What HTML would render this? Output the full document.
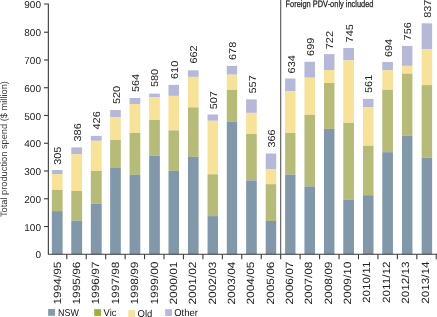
<!DOCTYPE html>
<html><head><meta charset="utf-8"><style>
html,body{margin:0;padding:0;background:#fff;}
body{width:437px;height:317px;overflow:hidden;font-family:"Liberation Sans",sans-serif;}
svg{display:block;will-change:transform;} text{text-rendering:geometricPrecision;}
</style></head><body>
<svg width="437" height="317" viewBox="0 0 437 317">
<rect x="51.83" y="170.0" width="10.774999999999999" height="4.10" fill="#b6b8da"/>
<rect x="51.83" y="174.1" width="10.774999999999999" height="15.80" fill="#f7e298"/>
<rect x="51.83" y="189.9" width="10.774999999999999" height="21.20" fill="#b6bc78"/>
<rect x="51.83" y="211.1" width="10.774999999999999" height="43.20" fill="#8098aa"/>
<rect x="71.27" y="147.4" width="10.849999999999994" height="6.60" fill="#b6b8da"/>
<rect x="71.27" y="154.0" width="10.849999999999994" height="37.00" fill="#f7e298"/>
<rect x="71.27" y="191.0" width="10.849999999999994" height="29.70" fill="#b6bc78"/>
<rect x="71.27" y="220.7" width="10.849999999999994" height="33.60" fill="#8098aa"/>
<rect x="90.84" y="135.9" width="10.849999999999994" height="4.90" fill="#b6b8da"/>
<rect x="90.84" y="140.8" width="10.849999999999994" height="30.20" fill="#f7e298"/>
<rect x="90.84" y="171.0" width="10.849999999999994" height="32.70" fill="#b6bc78"/>
<rect x="90.84" y="203.7" width="10.849999999999994" height="50.60" fill="#8098aa"/>
<rect x="110.12" y="110.0" width="10.700000000000003" height="7.20" fill="#b6b8da"/>
<rect x="110.12" y="117.2" width="10.700000000000003" height="22.80" fill="#f7e298"/>
<rect x="110.12" y="140.0" width="10.700000000000003" height="27.40" fill="#b6bc78"/>
<rect x="110.12" y="167.4" width="10.700000000000003" height="86.90" fill="#8098aa"/>
<rect x="129.59" y="98.0" width="10.700000000000017" height="6.00" fill="#b6b8da"/>
<rect x="129.59" y="104.0" width="10.700000000000017" height="28.90" fill="#f7e298"/>
<rect x="129.59" y="132.9" width="10.700000000000017" height="41.90" fill="#b6bc78"/>
<rect x="129.59" y="174.8" width="10.700000000000017" height="79.50" fill="#8098aa"/>
<rect x="149.16" y="93.6" width="10.699999999999989" height="3.60" fill="#b6b8da"/>
<rect x="149.16" y="97.2" width="10.699999999999989" height="22.80" fill="#f7e298"/>
<rect x="149.16" y="120.0" width="10.699999999999989" height="35.60" fill="#b6bc78"/>
<rect x="149.16" y="155.6" width="10.699999999999989" height="98.70" fill="#8098aa"/>
<rect x="168.49" y="84.9" width="10.5" height="11.00" fill="#b6b8da"/>
<rect x="168.49" y="95.9" width="10.5" height="34.50" fill="#f7e298"/>
<rect x="168.49" y="130.4" width="10.5" height="40.40" fill="#b6bc78"/>
<rect x="168.49" y="170.8" width="10.5" height="83.50" fill="#8098aa"/>
<rect x="187.96" y="70.3" width="10.650000000000006" height="6.60" fill="#b6b8da"/>
<rect x="187.96" y="76.9" width="10.650000000000006" height="30.50" fill="#f7e298"/>
<rect x="187.96" y="107.4" width="10.650000000000006" height="49.40" fill="#b6bc78"/>
<rect x="187.96" y="156.8" width="10.650000000000006" height="97.50" fill="#8098aa"/>
<rect x="207.53" y="114.5" width="10.5" height="6.30" fill="#b6b8da"/>
<rect x="207.53" y="120.8" width="10.5" height="53.50" fill="#f7e298"/>
<rect x="207.53" y="174.3" width="10.5" height="41.80" fill="#b6bc78"/>
<rect x="207.53" y="216.1" width="10.5" height="38.20" fill="#8098aa"/>
<rect x="226.80" y="65.9" width="10.349999999999994" height="8.80" fill="#b6b8da"/>
<rect x="226.80" y="74.7" width="10.349999999999994" height="15.10" fill="#f7e298"/>
<rect x="226.80" y="89.8" width="10.349999999999994" height="32.10" fill="#b6bc78"/>
<rect x="226.80" y="121.9" width="10.349999999999994" height="132.40" fill="#8098aa"/>
<rect x="246.12" y="99.4" width="10.649999999999977" height="13.50" fill="#b6b8da"/>
<rect x="246.12" y="112.9" width="10.649999999999977" height="21.10" fill="#f7e298"/>
<rect x="246.12" y="134.0" width="10.649999999999977" height="46.40" fill="#b6bc78"/>
<rect x="246.12" y="180.4" width="10.649999999999977" height="73.90" fill="#8098aa"/>
<rect x="265.70" y="153.5" width="10.5" height="15.60" fill="#b6b8da"/>
<rect x="265.70" y="169.1" width="10.5" height="15.10" fill="#f7e298"/>
<rect x="265.70" y="184.2" width="10.5" height="36.80" fill="#b6bc78"/>
<rect x="265.70" y="221.0" width="10.5" height="33.30" fill="#8098aa"/>
<rect x="285.12" y="78.5" width="10.350000000000023" height="12.70" fill="#b6b8da"/>
<rect x="285.12" y="91.2" width="10.350000000000023" height="41.70" fill="#f7e298"/>
<rect x="285.12" y="132.9" width="10.350000000000023" height="41.70" fill="#b6bc78"/>
<rect x="285.12" y="174.6" width="10.350000000000023" height="79.70" fill="#8098aa"/>
<rect x="304.44" y="61.8" width="10.549999999999955" height="15.90" fill="#b6b8da"/>
<rect x="304.44" y="77.7" width="10.549999999999955" height="37.10" fill="#f7e298"/>
<rect x="304.44" y="114.8" width="10.549999999999955" height="71.60" fill="#b6bc78"/>
<rect x="304.44" y="186.4" width="10.549999999999955" height="67.90" fill="#8098aa"/>
<rect x="323.97" y="54.1" width="10.5" height="15.90" fill="#b6b8da"/>
<rect x="323.97" y="70.0" width="10.5" height="13.00" fill="#f7e298"/>
<rect x="323.97" y="83.0" width="10.5" height="45.90" fill="#b6bc78"/>
<rect x="323.97" y="128.9" width="10.5" height="125.40" fill="#8098aa"/>
<rect x="343.29" y="48.0" width="10.699999999999989" height="12.30" fill="#b6b8da"/>
<rect x="343.29" y="60.3" width="10.699999999999989" height="62.60" fill="#f7e298"/>
<rect x="343.29" y="122.9" width="10.699999999999989" height="77.00" fill="#b6bc78"/>
<rect x="343.29" y="199.9" width="10.699999999999989" height="54.40" fill="#8098aa"/>
<rect x="362.96" y="98.9" width="10.549999999999955" height="8.20" fill="#b6b8da"/>
<rect x="362.96" y="107.1" width="10.549999999999955" height="38.70" fill="#f7e298"/>
<rect x="362.96" y="145.8" width="10.549999999999955" height="49.40" fill="#b6bc78"/>
<rect x="362.96" y="195.2" width="10.549999999999955" height="59.10" fill="#8098aa"/>
<rect x="382.28" y="62.0" width="10.649999999999977" height="8.30" fill="#b6b8da"/>
<rect x="382.28" y="70.3" width="10.649999999999977" height="19.50" fill="#f7e298"/>
<rect x="382.28" y="89.8" width="10.649999999999977" height="62.40" fill="#b6bc78"/>
<rect x="382.28" y="152.2" width="10.649999999999977" height="102.10" fill="#8098aa"/>
<rect x="401.96" y="45.9" width="10.449999999999932" height="20.00" fill="#b6b8da"/>
<rect x="401.96" y="65.9" width="10.449999999999932" height="7.70" fill="#f7e298"/>
<rect x="401.96" y="73.6" width="10.449999999999932" height="62.00" fill="#b6bc78"/>
<rect x="401.96" y="135.6" width="10.449999999999932" height="118.70" fill="#8098aa"/>
<rect x="421.68" y="23.3" width="10.449999999999989" height="26.10" fill="#b6b8da"/>
<rect x="421.68" y="49.4" width="10.449999999999989" height="35.70" fill="#f7e298"/>
<rect x="421.68" y="85.1" width="10.449999999999989" height="72.50" fill="#b6bc78"/>
<rect x="421.68" y="157.6" width="10.449999999999989" height="96.70" fill="#8098aa"/>
<path d="M44 4.0 H48.35 V254.3 H437" fill="none" stroke="#3a3a3a" stroke-width="1.1"/>
<path d="M44 226.54 H48.35" stroke="#3a3a3a" stroke-width="1.1"/>
<path d="M44 198.78 H48.35" stroke="#3a3a3a" stroke-width="1.1"/>
<path d="M44 171.02 H48.35" stroke="#3a3a3a" stroke-width="1.1"/>
<path d="M44 143.26 H48.35" stroke="#3a3a3a" stroke-width="1.1"/>
<path d="M44 115.50 H48.35" stroke="#3a3a3a" stroke-width="1.1"/>
<path d="M44 87.74 H48.35" stroke="#3a3a3a" stroke-width="1.1"/>
<path d="M44 59.98 H48.35" stroke="#3a3a3a" stroke-width="1.1"/>
<path d="M44 32.22 H48.35" stroke="#3a3a3a" stroke-width="1.1"/>
<text x="41" y="258.30" text-anchor="end" font-size="10" fill="#222" font-family="Liberation Sans, sans-serif">0</text>
<text x="41" y="230.54" text-anchor="end" font-size="10" fill="#222" font-family="Liberation Sans, sans-serif">100</text>
<text x="41" y="202.78" text-anchor="end" font-size="10" fill="#222" font-family="Liberation Sans, sans-serif">200</text>
<text x="41" y="175.02" text-anchor="end" font-size="10" fill="#222" font-family="Liberation Sans, sans-serif">300</text>
<text x="41" y="147.26" text-anchor="end" font-size="10" fill="#222" font-family="Liberation Sans, sans-serif">400</text>
<text x="41" y="119.50" text-anchor="end" font-size="10" fill="#222" font-family="Liberation Sans, sans-serif">500</text>
<text x="41" y="91.74" text-anchor="end" font-size="10" fill="#222" font-family="Liberation Sans, sans-serif">600</text>
<text x="41" y="63.98" text-anchor="end" font-size="10" fill="#222" font-family="Liberation Sans, sans-serif">700</text>
<text x="41" y="36.22" text-anchor="end" font-size="10" fill="#222" font-family="Liberation Sans, sans-serif">800</text>
<text x="41" y="7.60" text-anchor="end" font-size="10" fill="#222" font-family="Liberation Sans, sans-serif">900</text>
<path d="M66.80 254.3 V259.3" stroke="#3a3a3a" stroke-width="1.1"/>
<path d="M86.24 254.3 V259.3" stroke="#3a3a3a" stroke-width="1.1"/>
<path d="M105.69 254.3 V259.3" stroke="#3a3a3a" stroke-width="1.1"/>
<path d="M125.13 254.3 V259.3" stroke="#3a3a3a" stroke-width="1.1"/>
<path d="M144.57 254.3 V259.3" stroke="#3a3a3a" stroke-width="1.1"/>
<path d="M164.02 254.3 V259.3" stroke="#3a3a3a" stroke-width="1.1"/>
<path d="M183.47 254.3 V259.3" stroke="#3a3a3a" stroke-width="1.1"/>
<path d="M202.91 254.3 V259.3" stroke="#3a3a3a" stroke-width="1.1"/>
<path d="M222.35 254.3 V259.3" stroke="#3a3a3a" stroke-width="1.1"/>
<path d="M241.80 254.3 V259.3" stroke="#3a3a3a" stroke-width="1.1"/>
<path d="M261.25 254.3 V259.3" stroke="#3a3a3a" stroke-width="1.1"/>
<path d="M280.69 254.3 V259.3" stroke="#3a3a3a" stroke-width="1.1"/>
<path d="M300.13 254.3 V259.3" stroke="#3a3a3a" stroke-width="1.1"/>
<path d="M319.58 254.3 V259.3" stroke="#3a3a3a" stroke-width="1.1"/>
<path d="M339.03 254.3 V259.3" stroke="#3a3a3a" stroke-width="1.1"/>
<path d="M358.47 254.3 V259.3" stroke="#3a3a3a" stroke-width="1.1"/>
<path d="M377.92 254.3 V259.3" stroke="#3a3a3a" stroke-width="1.1"/>
<path d="M397.36 254.3 V259.3" stroke="#3a3a3a" stroke-width="1.1"/>
<path d="M416.81 254.3 V259.3" stroke="#3a3a3a" stroke-width="1.1"/>
<path d="M436.25 254.3 V259.3" stroke="#3a3a3a" stroke-width="1.1"/>
<path d="M280.7 0 V254.3" stroke="#555" stroke-width="1.1"/>
<text transform="translate(61.25,164.80) rotate(-90)" font-size="10" textLength="18.2" lengthAdjust="spacingAndGlyphs" fill="#222" font-family="Liberation Sans, sans-serif">305</text>
<text transform="translate(80.69,141.50) rotate(-90)" font-size="10" textLength="18.2" lengthAdjust="spacingAndGlyphs" fill="#222" font-family="Liberation Sans, sans-serif">386</text>
<text transform="translate(100.14,129.50) rotate(-90)" font-size="10" textLength="18.2" lengthAdjust="spacingAndGlyphs" fill="#222" font-family="Liberation Sans, sans-serif">426</text>
<text transform="translate(119.58,104.10) rotate(-90)" font-size="10" textLength="18.2" lengthAdjust="spacingAndGlyphs" fill="#222" font-family="Liberation Sans, sans-serif">520</text>
<text transform="translate(139.03,92.10) rotate(-90)" font-size="10" textLength="18.2" lengthAdjust="spacingAndGlyphs" fill="#222" font-family="Liberation Sans, sans-serif">564</text>
<text transform="translate(158.47,87.10) rotate(-90)" font-size="10" textLength="18.2" lengthAdjust="spacingAndGlyphs" fill="#222" font-family="Liberation Sans, sans-serif">580</text>
<text transform="translate(177.92,79.00) rotate(-90)" font-size="10" textLength="18.2" lengthAdjust="spacingAndGlyphs" fill="#222" font-family="Liberation Sans, sans-serif">610</text>
<text transform="translate(197.37,63.60) rotate(-90)" font-size="10" textLength="18.2" lengthAdjust="spacingAndGlyphs" fill="#222" font-family="Liberation Sans, sans-serif">662</text>
<text transform="translate(216.81,109.30) rotate(-90)" font-size="10" textLength="18.2" lengthAdjust="spacingAndGlyphs" fill="#222" font-family="Liberation Sans, sans-serif">507</text>
<text transform="translate(236.25,60.00) rotate(-90)" font-size="10" textLength="18.2" lengthAdjust="spacingAndGlyphs" fill="#222" font-family="Liberation Sans, sans-serif">678</text>
<text transform="translate(255.70,93.50) rotate(-90)" font-size="10" textLength="18.2" lengthAdjust="spacingAndGlyphs" fill="#222" font-family="Liberation Sans, sans-serif">557</text>
<text transform="translate(275.15,147.60) rotate(-90)" font-size="10" textLength="18.2" lengthAdjust="spacingAndGlyphs" fill="#222" font-family="Liberation Sans, sans-serif">366</text>
<text transform="translate(294.59,73.40) rotate(-90)" font-size="10" textLength="18.2" lengthAdjust="spacingAndGlyphs" fill="#222" font-family="Liberation Sans, sans-serif">634</text>
<text transform="translate(314.04,55.90) rotate(-90)" font-size="10" textLength="18.2" lengthAdjust="spacingAndGlyphs" fill="#222" font-family="Liberation Sans, sans-serif">699</text>
<text transform="translate(333.48,49.20) rotate(-90)" font-size="10" textLength="18.2" lengthAdjust="spacingAndGlyphs" fill="#222" font-family="Liberation Sans, sans-serif">722</text>
<text transform="translate(352.93,42.40) rotate(-90)" font-size="10" textLength="18.2" lengthAdjust="spacingAndGlyphs" fill="#222" font-family="Liberation Sans, sans-serif">745</text>
<text transform="translate(372.37,93.00) rotate(-90)" font-size="10" textLength="18.2" lengthAdjust="spacingAndGlyphs" fill="#222" font-family="Liberation Sans, sans-serif">561</text>
<text transform="translate(391.82,57.10) rotate(-90)" font-size="10" textLength="18.2" lengthAdjust="spacingAndGlyphs" fill="#222" font-family="Liberation Sans, sans-serif">694</text>
<text transform="translate(411.26,40.40) rotate(-90)" font-size="10" textLength="18.2" lengthAdjust="spacingAndGlyphs" fill="#222" font-family="Liberation Sans, sans-serif">756</text>
<text transform="translate(430.71,17.80) rotate(-90)" font-size="10" textLength="18.2" lengthAdjust="spacingAndGlyphs" fill="#222" font-family="Liberation Sans, sans-serif">837</text>
<text transform="translate(60.75,261.5) rotate(-90)" text-anchor="end" font-size="10.5" textLength="43.00" lengthAdjust="spacingAndGlyphs" fill="#222" font-family="Liberation Sans, sans-serif">1994/95</text>
<text transform="translate(80.11,261.5) rotate(-90)" text-anchor="end" font-size="10.5" textLength="43.00" lengthAdjust="spacingAndGlyphs" fill="#222" font-family="Liberation Sans, sans-serif">1995/96</text>
<text transform="translate(99.46,261.5) rotate(-90)" text-anchor="end" font-size="10.5" textLength="43.00" lengthAdjust="spacingAndGlyphs" fill="#222" font-family="Liberation Sans, sans-serif">1996/97</text>
<text transform="translate(118.81,261.5) rotate(-90)" text-anchor="end" font-size="10.5" textLength="43.00" lengthAdjust="spacingAndGlyphs" fill="#222" font-family="Liberation Sans, sans-serif">1997/98</text>
<text transform="translate(138.17,261.5) rotate(-90)" text-anchor="end" font-size="10.5" textLength="43.00" lengthAdjust="spacingAndGlyphs" fill="#222" font-family="Liberation Sans, sans-serif">1998/99</text>
<text transform="translate(157.53,261.5) rotate(-90)" text-anchor="end" font-size="10.5" textLength="43.00" lengthAdjust="spacingAndGlyphs" fill="#222" font-family="Liberation Sans, sans-serif">1999/00</text>
<text transform="translate(176.88,261.5) rotate(-90)" text-anchor="end" font-size="10.5" textLength="43.00" lengthAdjust="spacingAndGlyphs" fill="#222" font-family="Liberation Sans, sans-serif">2000/01</text>
<text transform="translate(196.24,261.5) rotate(-90)" text-anchor="end" font-size="10.5" textLength="43.00" lengthAdjust="spacingAndGlyphs" fill="#222" font-family="Liberation Sans, sans-serif">2001/02</text>
<text transform="translate(215.59,261.5) rotate(-90)" text-anchor="end" font-size="10.5" textLength="43.00" lengthAdjust="spacingAndGlyphs" fill="#222" font-family="Liberation Sans, sans-serif">2002/03</text>
<text transform="translate(234.94,261.5) rotate(-90)" text-anchor="end" font-size="10.5" textLength="43.00" lengthAdjust="spacingAndGlyphs" fill="#222" font-family="Liberation Sans, sans-serif">2003/04</text>
<text transform="translate(254.30,261.5) rotate(-90)" text-anchor="end" font-size="10.5" textLength="43.00" lengthAdjust="spacingAndGlyphs" fill="#222" font-family="Liberation Sans, sans-serif">2004/05</text>
<text transform="translate(273.65,261.5) rotate(-90)" text-anchor="end" font-size="10.5" textLength="43.00" lengthAdjust="spacingAndGlyphs" fill="#222" font-family="Liberation Sans, sans-serif">2005/06</text>
<text transform="translate(293.01,261.5) rotate(-90)" text-anchor="end" font-size="10.5" textLength="43.00" lengthAdjust="spacingAndGlyphs" fill="#222" font-family="Liberation Sans, sans-serif">2006/07</text>
<text transform="translate(312.37,261.5) rotate(-90)" text-anchor="end" font-size="10.5" textLength="43.00" lengthAdjust="spacingAndGlyphs" fill="#222" font-family="Liberation Sans, sans-serif">2007/08</text>
<text transform="translate(331.72,261.5) rotate(-90)" text-anchor="end" font-size="10.5" textLength="43.00" lengthAdjust="spacingAndGlyphs" fill="#222" font-family="Liberation Sans, sans-serif">2008/09</text>
<text transform="translate(351.07,261.5) rotate(-90)" text-anchor="end" font-size="10.5" textLength="43.00" lengthAdjust="spacingAndGlyphs" fill="#222" font-family="Liberation Sans, sans-serif">2009/10</text>
<text transform="translate(370.43,261.5) rotate(-90)" text-anchor="end" font-size="10.5" textLength="41.50" lengthAdjust="spacingAndGlyphs" fill="#222" font-family="Liberation Sans, sans-serif">2010/11</text>
<text transform="translate(389.79,261.5) rotate(-90)" text-anchor="end" font-size="10.5" textLength="41.50" lengthAdjust="spacingAndGlyphs" fill="#222" font-family="Liberation Sans, sans-serif">2011/12</text>
<text transform="translate(409.14,261.5) rotate(-90)" text-anchor="end" font-size="10.5" textLength="42.25" lengthAdjust="spacingAndGlyphs" fill="#222" font-family="Liberation Sans, sans-serif">2012/13</text>
<text transform="translate(428.50,261.5) rotate(-90)" text-anchor="end" font-size="10.5" textLength="42.25" lengthAdjust="spacingAndGlyphs" fill="#222" font-family="Liberation Sans, sans-serif">2013/14</text>
<text transform="translate(6.6,149.1) rotate(-90)" text-anchor="middle" font-size="9.3" textLength="136" lengthAdjust="spacingAndGlyphs" fill="#3a3a3a" font-family="Liberation Sans, sans-serif">Total production spend ($ million)</text>
<text x="285.5" y="6.5" font-size="9.3" textLength="88" lengthAdjust="spacingAndGlyphs" fill="#222" stroke="#222" stroke-width="0.25" font-family="Liberation Sans, sans-serif">Foreign PDV-only included</text>
<rect x="48.1" y="309.0" width="6.9" height="6.8" fill="#849bac"/>
<text transform="translate(58.0,315.80)" text-rendering="geometricPrecision" font-size="10.0" textLength="20.8" lengthAdjust="spacingAndGlyphs" fill="#111" font-family="Liberation Sans, sans-serif">NSW</text>
<rect x="94.2" y="309.1" width="6.9" height="6.8" fill="#a6ae3b"/>
<text transform="translate(103.6,315.90)" text-rendering="geometricPrecision" font-size="10.0" textLength="12.8" lengthAdjust="spacingAndGlyphs" fill="#111" font-family="Liberation Sans, sans-serif">Vic</text>
<rect x="128.3" y="310.2" width="6.9" height="6.8" fill="#f7e298"/>
<text transform="translate(137.5,317.00)" text-rendering="geometricPrecision" font-size="10.0" textLength="14.8" lengthAdjust="spacingAndGlyphs" fill="#111" font-family="Liberation Sans, sans-serif">Qld</text>
<rect x="165.2" y="309.2" width="6.9" height="6.8" fill="#b6b8da"/>
<text transform="translate(174.2,316.00)" text-rendering="geometricPrecision" font-size="10.0" textLength="23.6" lengthAdjust="spacingAndGlyphs" fill="#111" font-family="Liberation Sans, sans-serif">Other</text>
</svg>
</body></html>
